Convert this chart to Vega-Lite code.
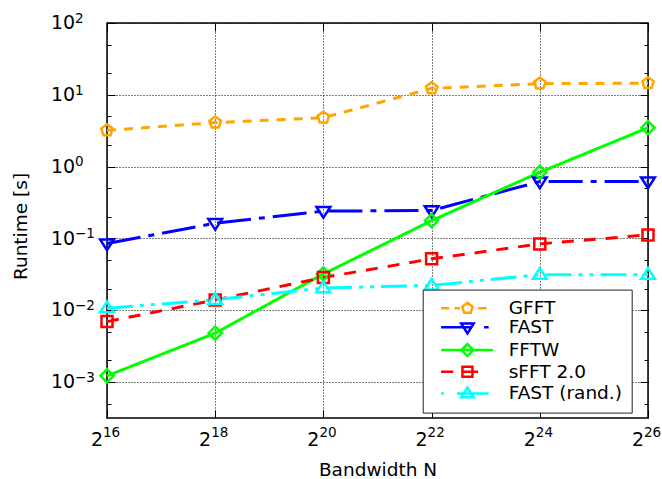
{
  "$schema": "https://vega.github.io/schema/vega-lite/v6.json",
  "width": 541,
  "height": 395,
  "autosize": "none",
  "padding": {"left": 107, "top": 23, "right": 14, "bottom": 61},
  "config": {
    "view": {"stroke": "#000", "strokeWidth": 1.5},
    "font": "DejaVu Sans",
    "axis": {"labelColor": "#000", "titleColor": "#000", "tickColor": "#000", "labelFont": "DejaVu Sans", "titleFont": "DejaVu Sans", "titleFontWeight": "normal", "labelFlush": false, "labelOverlap": false}
  },
  "data": {
    "values": [
      {"series": "GFFT", "N": 65536, "t": 3.2},
      {"series": "GFFT", "N": 262144, "t": 4.1},
      {"series": "GFFT", "N": 1048576, "t": 4.8},
      {"series": "GFFT", "N": 4194304, "t": 12.3},
      {"series": "GFFT", "N": 16777216, "t": 14.3},
      {"series": "GFFT", "N": 67108864, "t": 14.5},
      {"series": "FAST", "N": 65536, "t": 0.085},
      {"series": "FAST", "N": 262144, "t": 0.163},
      {"series": "FAST", "N": 1048576, "t": 0.24},
      {"series": "FAST", "N": 4194304, "t": 0.245},
      {"series": "FAST", "N": 16777216, "t": 0.62},
      {"series": "FAST", "N": 67108864, "t": 0.62},
      {"series": "FFTW", "N": 65536, "t": 0.00122},
      {"series": "FFTW", "N": 262144, "t": 0.0048},
      {"series": "FFTW", "N": 1048576, "t": 0.032},
      {"series": "FFTW", "N": 4194304, "t": 0.177},
      {"series": "FFTW", "N": 16777216, "t": 0.835},
      {"series": "FFTW", "N": 67108864, "t": 3.48},
      {"series": "sFFT 2.0", "N": 65536, "t": 0.00695},
      {"series": "sFFT 2.0", "N": 262144, "t": 0.0139},
      {"series": "sFFT 2.0", "N": 1048576, "t": 0.0286},
      {"series": "sFFT 2.0", "N": 4194304, "t": 0.052},
      {"series": "sFFT 2.0", "N": 16777216, "t": 0.084},
      {"series": "sFFT 2.0", "N": 67108864, "t": 0.112},
      {"series": "FAST (rand.)", "N": 65536, "t": 0.0107},
      {"series": "FAST (rand.)", "N": 262144, "t": 0.014},
      {"series": "FAST (rand.)", "N": 1048576, "t": 0.0204},
      {"series": "FAST (rand.)", "N": 4194304, "t": 0.0222},
      {"series": "FAST (rand.)", "N": 16777216, "t": 0.0313},
      {"series": "FAST (rand.)", "N": 67108864, "t": 0.0313}
    ]
  },
  "resolve": {
    "scale": {"color": "independent", "shape": "independent", "strokeDash": "independent"},
    "axis": {"x": "independent", "y": "independent"}
  },
  "layer": [
    {
      "mark": {"type": "line", "strokeWidth": 3, "clip": false},
      "encoding": {
        "x": {
          "field": "N", "type": "quantitative",
          "scale": {"type": "log", "base": 2, "domain": [65536, 67108864], "nice": false},
          "axis": {
            "orient": "bottom",
            "values": [65536, 262144, 1048576, 4194304, 16777216, 67108864],
            "labels": false,
            "tickSize": -8,
            "tickWidth": 1,
            "domain": false,
            "grid": true,
            "gridColor": "#000",
            "gridDash": [1, 2],
            "gridWidth": 1,
            "title": "Bandwidth N",
            "titleFontSize": 18.5,
            "titleY": 57,
            "titleBaseline": "alphabetic"
          }
        },
        "y": {
          "field": "t", "type": "quantitative",
          "scale": {"type": "log", "domain": [0.000316, 100], "nice": false},
          "axis": {
            "orient": "left",
            "values": [0.0005, 0.001, 0.002, 0.005, 0.01, 0.02, 0.05, 0.1, 0.2, 0.5, 1, 2, 5, 10, 20, 50, 100],
            "labels": false,
            "tickSize": {"condition": {"test": "abs(log(datum.value)/LN10-round(log(datum.value)/LN10))<0.01", "value": -8}, "value": -4},
            "tickWidth": 1,
            "domain": false,
            "grid": true,
            "gridColor": "#000",
            "gridDash": [1, 2],
            "gridWidth": 1,
            "gridOpacity": {"condition": {"test": "abs(log(datum.value)/LN10-round(log(datum.value)/LN10))<0.01", "value": 1}, "value": 0},
            "title": "Runtime [s]",
            "titleFontSize": 18.5,
            "titleX": -80.5,
            "titleY": 203,
            "titleAngle": -90,
            "titleAlign": "center",
            "titleBaseline": "alphabetic"
          }
        },
        "color": {
          "field": "series", "type": "nominal",
          "scale": {"domain": ["GFFT", "FAST", "FFTW", "sFFT 2.0", "FAST (rand.)"], "range": ["#FFA500", "#0000FF", "#00FF00", "#FF0000", "#00FFFF"]},
          "legend": null
        },
        "strokeDash": {
          "field": "series", "type": "nominal",
          "scale": {"domain": ["GFFT", "FAST", "FFTW", "sFFT 2.0", "FAST (rand.)"], "range": [[9, 8], [34, 8, 6, 8], [1, 0], [12, 10], [26, 7, 4, 7, 4, 7]]},
          "legend": null
        }
      }
    },
    {
      "mark": {"type": "point", "filled": false, "strokeWidth": 2.5, "size": 121, "opacity": 1, "clip": false},
      "encoding": {
        "x": {
          "field": "N", "type": "quantitative",
          "scale": {"type": "log", "base": 2, "domain": [65536, 67108864], "nice": false},
          "axis": {
            "orient": "top",
            "values": [65536, 262144, 1048576, 4194304, 16777216, 67108864],
            "labels": false, "grid": false, "domain": false,
            "tickSize": -8, "tickWidth": 1, "title": null
          }
        },
        "y": {
          "field": "t", "type": "quantitative",
          "scale": {"type": "log", "domain": [0.000316, 100], "nice": false},
          "axis": {
            "orient": "right",
            "values": [0.0005, 0.001, 0.002, 0.005, 0.01, 0.02, 0.05, 0.1, 0.2, 0.5, 1, 2, 5, 10, 20, 50, 100],
            "labels": false, "grid": false, "domain": false,
            "tickSize": {"condition": {"test": "abs(log(datum.value)/LN10-round(log(datum.value)/LN10))<0.01", "value": -8}, "value": -4},
            "tickWidth": 1, "title": null
          }
        },
        "color": {
          "field": "series", "type": "nominal",
          "scale": {"domain": ["GFFT", "FAST", "FFTW", "sFFT 2.0", "FAST (rand.)"], "range": ["#FFA500", "#0000FF", "#00FF00", "#FF0000", "#00FFFF"]},
          "legend": null
        },
        "shape": {
          "field": "series", "type": "nominal",
          "scale": {
            "domain": ["GFFT", "FAST", "FFTW", "sFFT 2.0", "FAST (rand.)"],
            "range": [
              "M0,-1.1L1.046,-0.34L0.647,0.89L-0.647,0.89L-1.046,-0.34Z",
              "M-1.25,-0.75L1.25,-0.75L0,1.2Z",
              "M0,-1.2L1.2,0L0,1.2L-1.2,0Z",
              "M-1,-1L1,-1L1,1L-1,1Z",
              "M-1.25,0.75L1.25,0.75L0,-1.2Z"
            ]
          },
          "legend": null
        }
      }
    },
    {
      "transform": [{"filter": "false"}],
      "mark": {"type": "point", "filled": false, "strokeWidth": 2.5, "size": 121, "opacity": 1},
      "encoding": {
        "x": {
          "field": "N", "type": "quantitative",
          "scale": {"type": "log", "base": 2, "domain": [65536, 67108864], "nice": false},
          "axis": {
            "orient": "bottom",
            "values": [65536, 262144, 1048576, 4194304, 16777216, 67108864],
            "labelExpr": "'2'",
            "labelAlign": "right", "labelOffset": -4.5, "labelBaseline": "alphabetic",
            "labelPadding": 27.7, "labelFontSize": 19,
            "ticks": false, "grid": false, "domain": false, "title": null
          }
        },
        "y": {
          "field": "t", "type": "quantitative",
          "scale": {"type": "log", "domain": [0.000316, 100], "nice": false},
          "axis": {
            "orient": "left",
            "values": [0.001, 0.01, 0.1, 1, 10, 100],
            "labelExpr": "'10'",
            "labelAlign": "left", "labelBaseline": "alphabetic", "labelOffset": 5.7,
            "labelPadding": 56.5, "labelFontSize": 19,
            "ticks": false, "grid": false, "domain": false, "title": null
          }
        },
        "color": {
          "field": "series", "type": "nominal",
          "scale": {"domain": ["GFFT", "FAST", "FFTW", "sFFT 2.0", "FAST (rand.)"], "range": ["#FFA500", "#0000FF", "#00FF00", "#FF0000", "#00FFFF"]},
          "legend": {
            "title": null, "orient": "none", "legendX": 315.7, "legendY": 266.6,
            "padding": 9.5, "strokeColor": "#222", "fillColor": "#fff",
            "symbolStrokeWidth": 2.5, "symbolOffset": 26, "labelOffset": 32,
            "labelFontSize": 18.5, "labelFont": "DejaVu Sans", "labelColor": "#000", "rowPadding": -0.3
          }
        },
        "shape": {
          "field": "series", "type": "nominal",
          "scale": {
            "domain": ["GFFT", "FAST", "FFTW", "sFFT 2.0", "FAST (rand.)"],
            "range": [
              "M0,-1.1L1.046,-0.34L0.647,0.89L-0.647,0.89L-1.046,-0.34Z M-5.27,0L-3.64,0M-2.6,0L-1.5,0M2.13,0L3.82,0",
              "M-1.25,-0.75L1.25,-0.75L0,1.2Z M-5.27,0L0.9,0M3.33,0L4.24,0",
              "M0,-1.2L1.2,0L0,1.2L-1.2,0Z M-5.27,0L5.1,0",
              "M-1,-1L1,-1L1,1L-1,1Z M-5.27,0L-2.85,0M-0.9,0L2.13,0",
              "M-1.25,0.75L1.25,0.75L0,-1.2Z M-5.27,0L-4.67,0M-2.12,0L4.24,0"
            ]
          },
          "legend": {
            "title": null, "orient": "none", "legendX": 315.7, "legendY": 266.6,
            "padding": 9.5, "strokeColor": "#222", "fillColor": "#fff",
            "symbolStrokeWidth": 2.5, "symbolOffset": 26, "labelOffset": 32,
            "labelFontSize": 18.5, "labelFont": "DejaVu Sans", "labelColor": "#000", "rowPadding": -0.3
          }
        }
      }
    },
    {
      "transform": [{"filter": "false"}],
      "mark": {"type": "point", "opacity": 1},
      "encoding": {
        "x": {
          "field": "N", "type": "quantitative",
          "scale": {"type": "log", "base": 2, "domain": [65536, 67108864], "nice": false},
          "axis": {
            "orient": "bottom",
            "values": [65536, 262144, 1048576, 4194304, 16777216, 67108864],
            "labelExpr": "['16','18','20','22','24','26'][round(log(datum.value)/LN2/2)-8]",
            "labelAlign": "left", "labelOffset": -4.5, "labelBaseline": "alphabetic",
            "labelPadding": 18.7, "labelFontSize": 13.5,
            "ticks": false, "grid": false, "domain": false, "title": null
          }
        },
        "y": {
          "field": "t", "type": "quantitative",
          "scale": {"type": "log", "domain": [0.000316, 100], "nice": false},
          "axis": {
            "orient": "left",
            "values": [0.001, 0.01, 0.1, 1, 10, 100],
            "labelExpr": "['−3','−2','−1','0','1','2'][round(log(datum.value)/LN10)+3]",
            "labelAlign": "left", "labelBaseline": "alphabetic", "labelOffset": -0.8,
            "labelPadding": 32.5, "labelFontSize": 13.5,
            "ticks": false, "grid": false, "domain": false, "title": null
          }
        }
      }
    }
  ]
}
